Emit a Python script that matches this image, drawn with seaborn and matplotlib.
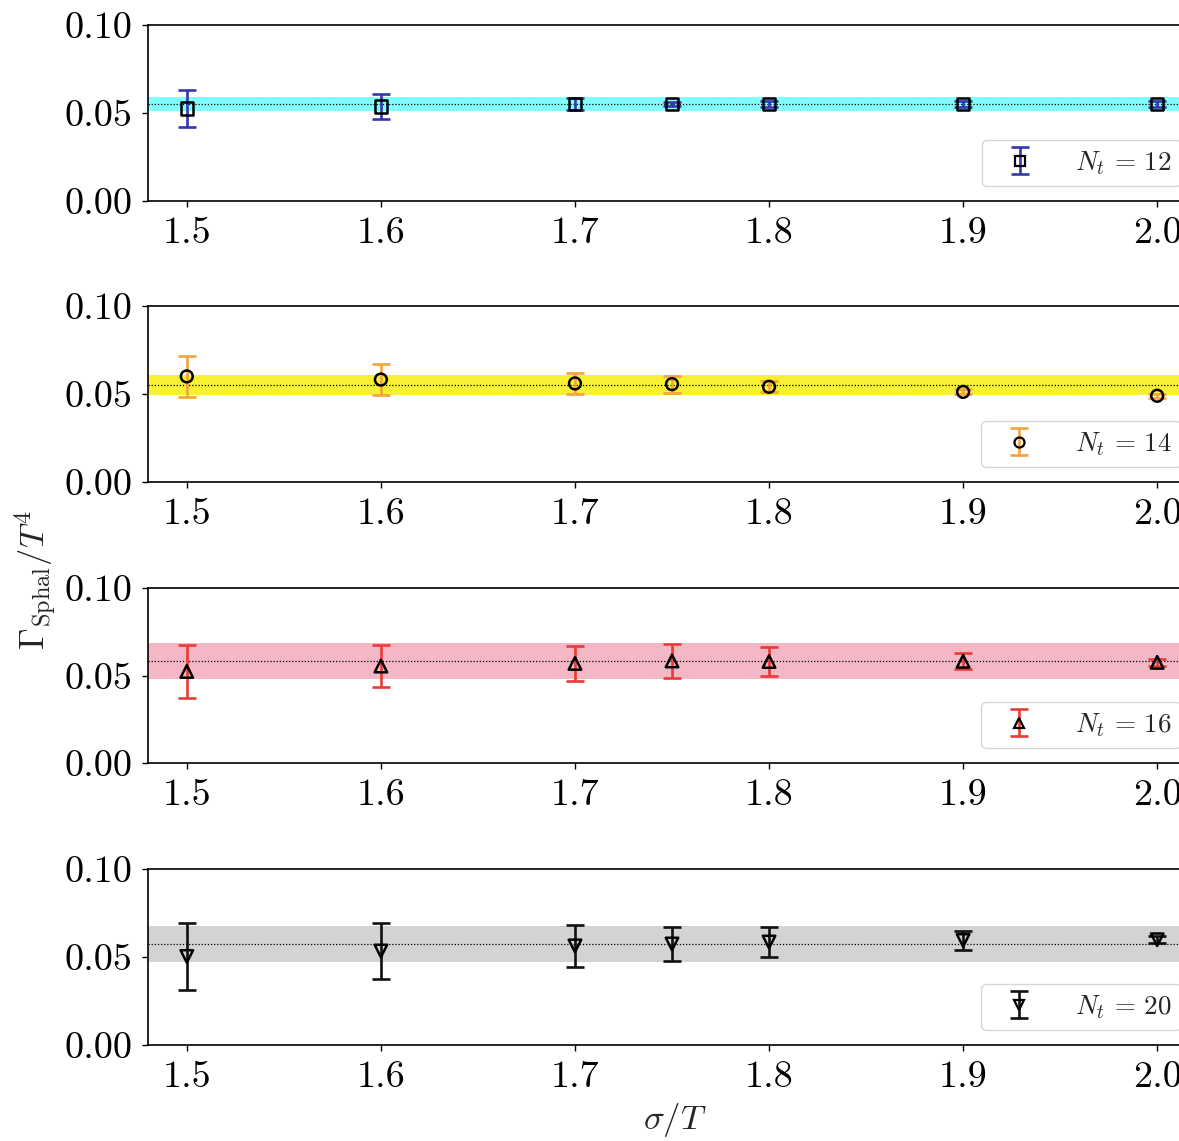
import matplotlib
matplotlib.use("Agg")
import matplotlib.pyplot as plt
from matplotlib.lines import Line2D
from matplotlib.legend_handler import HandlerTuple
import seaborn as sns
import pandas as pd

# sigma/T values shared by all lattice sizes
sigma = [1.5, 1.6, 1.7, 1.75, 1.8, 1.9, 2.0]

# Gamma_Sphal / T^4 and uncertainties per N_t
nt12_val = [0.0526, 0.0537, 0.0551, 0.0551, 0.0551, 0.0551, 0.0551]
nt12_err = [0.0106, 0.0071, 0.0035, 0.0012, 0.0018, 0.0018, 0.0018]
nt14_val = [0.0600, 0.0582, 0.0560, 0.0556, 0.0541, 0.0512, 0.0490]
nt14_err = [0.0117, 0.0088, 0.0060, 0.0048, 0.0032, 0.0014, 0.0010]
nt16_val = [0.0523, 0.0554, 0.0569, 0.0583, 0.0580, 0.0581, 0.0575]
nt16_err = [0.0152, 0.0120, 0.0100, 0.0097, 0.0083, 0.0046, 0.0020]
nt20_val = [0.0503, 0.0534, 0.0563, 0.0574, 0.0585, 0.0594, 0.0598]
nt20_err = [0.0190, 0.0159, 0.0120, 0.0097, 0.0085, 0.0054, 0.0020]

# fitted constant (centre) and its band (low, high) per N_t
fit_centre = [0.0551, 0.0551, 0.0583, 0.0574]
fit_low = [0.0511, 0.0494, 0.0480, 0.0472]
fit_high = [0.0591, 0.0608, 0.0686, 0.0676]

nt_labels = ["12", "14", "16", "20"]
y_ticks = [0.00, 0.05, 0.10]

series = [
    dict(val=nt12_val, err=nt12_err, marker="s", ecolor="#3636b0", band="#80ffff", ms=9.0),
    dict(val=nt14_val, err=nt14_err, marker="o", ecolor="#f5a33c", band="#f8f032", ms=8.5),
    dict(val=nt16_val, err=nt16_err, marker="^", ecolor="#eb3a36", band="#f4b7c5", ms=9.0),
    dict(val=nt20_val, err=nt20_err, marker="v", ecolor="#111111", band="#d3d3d3", ms=9.0),
]

sns.set_theme(style="ticks")
plt.rcParams.update({
    "font.family": "serif",
    "font.serif": ["cmr10", "DejaVu Serif"],
    "mathtext.fontset": "cm",
    "axes.formatter.use_mathtext": True,
    "axes.unicode_minus": False,
    "axes.linewidth": 1.2,
    "xtick.major.width": 1.0,
    "ytick.major.width": 1.0,
    "xtick.major.size": 4.0,
    "ytick.major.size": 4.0,
    "xtick.color": "black",
    "ytick.color": "black",
    "axes.edgecolor": "black",
})

W, H = 1179, 1141
fig = plt.figure(figsize=(W / 100, H / 100), dpi=100)

left_px, right_px = 148, 1196
panels_px = [(25, 201), (306, 482), (588, 763), (869, 1045)]

for i, (s, (top, bot)) in enumerate(zip(series, panels_px)):
    ax = fig.add_axes([left_px / W, 1 - bot / H, (right_px - left_px) / W, (bot - top) / H])
    ax.axhspan(fit_low[i], fit_high[i], color=s["band"], lw=0, zorder=1)
    ax.axhline(fit_centre[i], color="black", ls=(0, (1, 1.5)), lw=0.9, zorder=2)

    eb = ax.errorbar(sigma, s["val"], yerr=s["err"], fmt="none", ecolor=s["ecolor"],
                     elinewidth=1.9, capsize=6.5, capthick=1.9, zorder=3)
    df = pd.DataFrame({"sigma": sigma, "gamma": s["val"]})
    sns.scatterplot(data=df, x="sigma", y="gamma", ax=ax, marker=s["marker"],
                    s=s["ms"] ** 2, facecolor="none", edgecolor="black",
                    linewidth=1.8, zorder=4)

    ax.set_xlim(1.48, 2.02)
    ax.set_ylim(0.0, 0.10)
    ax.set_yticks(y_ticks)
    ax.set_yticklabels([f"{t:.2f}" for t in y_ticks])
    ax.set_xticks([1.5, 1.6, 1.7, 1.8, 1.9, 2.0])
    ax.set_xticklabels(["1.5", "1.6", "1.7", "1.8", "1.9", "2.0"])
    ax.tick_params(labelsize=27.5, pad=7)
    ax.set_xlabel("")
    ax.set_ylabel("")

    mk = Line2D([], [], ls="none", marker=s["marker"], ms=s["ms"] * 0.85,
                mfc="none", mec="black", mew=1.6)
    leg = ax.legend([(eb, mk)], [rf"$N_t\,=\,{nt_labels[i]}$"],
                    handler_map={tuple: HandlerTuple(ndivide=1)},
                    loc="lower right", fontsize=19.5, handlelength=2.1,
                    handletextpad=1.0, borderpad=0.35, borderaxespad=0.55,
                    frameon=True, fancybox=True, framealpha=0.8)
    leg.get_frame().set_edgecolor("#cccccc")

fig.text(675 / W, 1 - 1120 / H, r"$\sigma/T$", ha="center", va="center", fontsize=25)
fig.text(35 / W, 1 - 580 / H, r"$\Gamma_{\mathrm{Sphal}}/T^4$", ha="center", va="center",
         rotation=90, fontsize=25)

fig.savefig("out.png", dpi=100)
